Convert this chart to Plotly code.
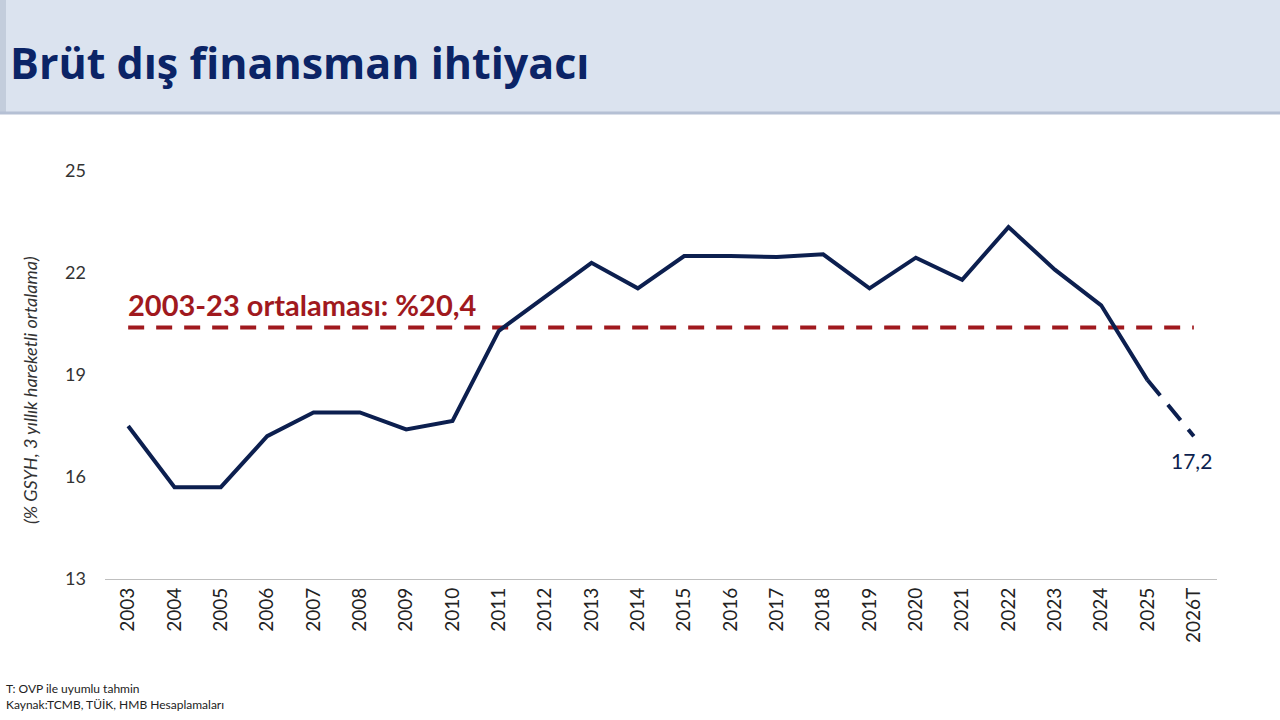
import plotly.graph_objects as go

# Data
years = ['2003', '2004', '2005', '2006', '2007', '2008', '2009', '2010', '2011',
         '2012', '2013', '2014', '2015', '2016', '2017', '2018', '2019', '2020',
         '2021', '2022', '2023', '2024', '2025', '2026T']
actual = [17.5, 15.7, 15.7, 17.2, 17.9, 17.9, 17.4, 17.65, 20.3,
          21.3, 22.3, 21.55, 22.5, 22.5, 22.47, 22.55, 21.55, 22.45,
          21.8, 23.35, 22.1, 21.05, 18.85]
forecast_years = ['2025', '2026T']
forecast = [18.85, 17.2]
average = 20.4

navy = '#0c1f4f'
red = '#a0191e'
font = 'Lato'

# pixel helpers for the header / footer pieces
W, H = 1280, 720
pl, pr, pt, pb = 105, 63, 171, 141
pw, ph = W - pl - pr, H - pt - pb


def px(x):
    return (x - pl) / pw


def py(y):
    return (H - pb - y) / ph


fig = go.Figure()

# long-run average, dashed red
fig.add_trace(go.Scatter(
    x=years, y=[average] * len(years), mode='lines',
    line=dict(color=red, width=4, dash='16px,12px'),
    hoverinfo='skip'))

# realised values
fig.add_trace(go.Scatter(
    x=years[:len(actual)], y=actual, mode='lines',
    line=dict(color=navy, width=4)))

# forecast, dashed
fig.add_trace(go.Scatter(
    x=forecast_years, y=forecast, mode='lines',
    line=dict(color=navy, width=4, dash='20px,12px')))

fig.update_layout(
    width=W, height=H,
    paper_bgcolor='white', plot_bgcolor='white',
    showlegend=False,
    margin=dict(l=pl, r=pr, t=pt, b=pb),
    font=dict(family=font, color='#333333'),
    xaxis=dict(type='category', tickangle=-90, showgrid=False,
               showline=True, linecolor='#bfbfbf', linewidth=1.3,
               tickfont=dict(size=19, color='#222222'), ticks='',
               range=[-0.5, 23.5]),
    yaxis=dict(range=[13, 25], tickvals=[13, 16, 19, 22, 25],
               showgrid=False, zeroline=False, ticks='',
               tickfont=dict(size=18, color='#333333'), ticklabelstandoff=18),
)

fig.layout.shapes = [
    dict(type='rect', xref='paper', yref='paper', x0=px(0), x1=px(W),
         y0=py(114), y1=py(0), fillcolor='#dbe3ef', line=dict(width=0), layer='below'),
    dict(type='rect', xref='paper', yref='paper', x0=px(0), x1=px(6),
         y0=py(114), y1=py(0), fillcolor='#c3cddc', line=dict(width=0), layer='below'),
    dict(type='line', xref='paper', yref='paper', x0=px(0), x1=px(W),
         y0=py(113), y1=py(113), line=dict(color='#b5c0d4', width=3)),
]

fig.layout.annotations = [
    dict(text='<b>Brüt dış finansman ihtiyacı</b>', xref='paper', yref='paper',
         x=px(8), y=py(62), xanchor='left', yanchor='middle', showarrow=False,
         font=dict(family='Open Sans', size=43, color='#0b2466')),
    dict(text='<b>2003-23 ortalaması: %20,4</b>', x=0, y=average,
         xanchor='left', yanchor='bottom', yshift=3, xshift=-2, showarrow=False,
         font=dict(family=font, size=29, color=red)),
    dict(text='17,2', x='2026T', y=forecast[-1], yanchor='top', yshift=-10,
         xshift=-2, showarrow=False, font=dict(family=font, size=21, color=navy)),
    dict(text='<i>(% GSYH, 3 yıllık hareketli ortalama)</i>', xref='paper', yref='paper',
         x=px(30), y=py(390), xanchor='center', yanchor='middle', textangle=-90,
         showarrow=False, font=dict(family=font, size=18, color='#333333')),
    dict(text='T: OVP ile uyumlu tahmin<br>Kaynak:TCMB, TÜİK, HMB Hesaplamaları',
         xref='paper', yref='paper', x=px(4), y=py(714), xanchor='left', yanchor='bottom',
         align='left', showarrow=False, font=dict(family=font, size=12, color='#222222')),
]

fig.write_html('out.html', config={'displayModeBar': False},
               post_script="document.body.style.margin='0';")
